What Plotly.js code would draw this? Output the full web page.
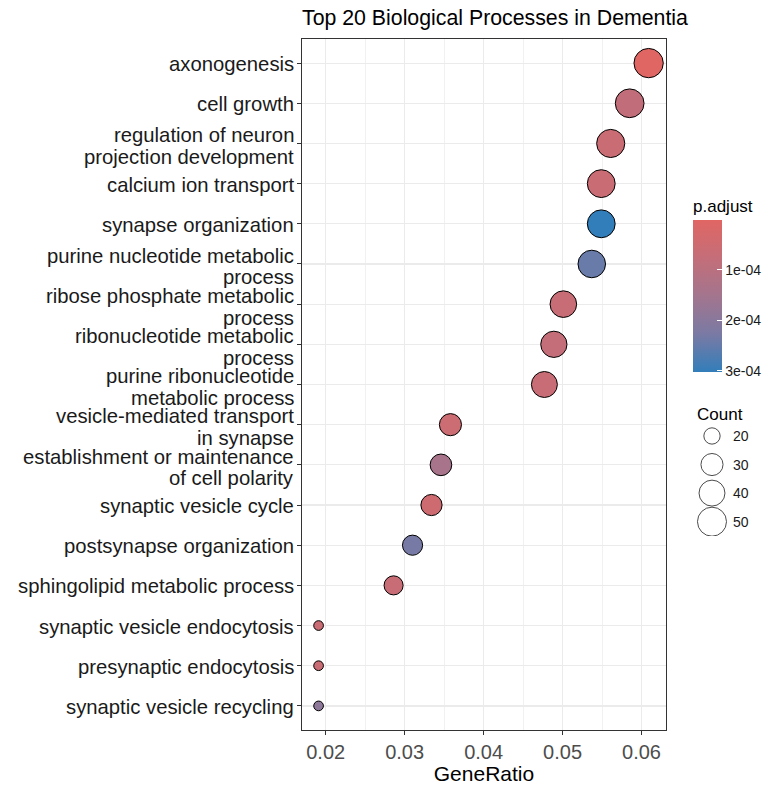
<!DOCTYPE html>
<html>
<head>
<meta charset="utf-8">
<script src="https://cdn.plot.ly/plotly-3.0.1.min.js"></script>
<style>html,body{margin:0;padding:0;background:#fff;}#chart{width:777px;height:785px;}</style>
</head>
<body>
<div id="chart"></div>
<script>
// ---- data ----
const categories = [
  "axonogenesis",
  "cell growth",
  "regulation of neuron<br>projection development",
  "calcium ion transport",
  "synapse organization",
  "purine nucleotide metabolic<br>process",
  "ribose phosphate metabolic<br>process",
  "ribonucleotide metabolic<br>process",
  "purine ribonucleotide<br>metabolic process",
  "vesicle-mediated transport<br>in synapse",
  "establishment or maintenance<br>of cell polarity",
  "synaptic vesicle cycle",
  "postsynapse organization",
  "sphingolipid metabolic process",
  "synaptic vesicle endocytosis",
  "presynaptic endocytosis",
  "synaptic vesicle recycling"
];
const geneRatio = [0.0609, 0.0585, 0.0561, 0.0549, 0.0549, 0.0537, 0.0501, 0.0489, 0.0477,
                   0.0358, 0.0346, 0.0334, 0.0310, 0.0286, 0.0191, 0.0191, 0.0191];
const counts = [51, 49, 47, 46, 46, 45, 42, 41, 40, 30, 29, 28, 26, 24, 16, 16, 16];
const pAdjust = [0.01e-4, 0.80e-4, 0.60e-4, 0.60e-4, 3.02e-4, 2.45e-4, 0.65e-4, 0.75e-4, 0.65e-4,
                 0.55e-4, 1.40e-4, 0.50e-4, 2.30e-4, 0.65e-4, 0.60e-4, 0.60e-4, 1.90e-4];
const xTickVals = [0.02, 0.03, 0.04, 0.05, 0.06];
const xTickText = ["0.02", "0.03", "0.04", "0.05", "0.06"];
const colorTickVals = [1e-4, 2e-4, 3e-4];
const colorTickText = ["1e-04", "2e-04", "3e-04"];
const legendCounts = [20, 30, 40, 50];
const legendLabels = ["20", "30", "40", "50"];

// ---- styling / scales ----
const FONT = "Liberation Sans, Arial, sans-serif";
const LABEL_LINE = 21.7;   // tight line spacing of the wrapped category labels (px)
const cMin = Math.min(...counts), cMax = Math.max(...counts);
const D_MIN = 9.7, D_MAX = 29.3;
function sizeOf(c) {
  const t = Math.max(0, (c - cMin) / (cMax - cMin));
  return D_MIN + (D_MAX - D_MIN) * Math.sqrt(t);
}
const pMin = Math.min(...pAdjust), pMax = Math.max(...pAdjust);
// colour bar runs red (low p, top) to blue (high p, bottom): plot the negated value
const colorscale = [
  [0, "#327eba"], [0.25, "#7a7aa4"], [0.5, "#a3758e"], [0.75, "#c46e79"], [1, "#e06663"]
];

const mainTrace = {
  type: "scatter", mode: "markers",
  x: geneRatio, y: categories,
  xaxis: "x", yaxis: "y",
  marker: {
    size: counts.map(sizeOf),
    color: pAdjust.map(v => -v),
    colorscale: colorscale,
    cmin: -pMax, cmax: -pMin,
    opacity: 1,
    line: {color: "#000000", width: 1},
    showscale: true,
    colorbar: {
      x: 0.8232, xanchor: "left", xpad: 0,
      y: 0.7728, yanchor: "top", ypad: 0,
      len: 176, lenmode: "pixels",
      thickness: 29, thicknessmode: "pixels",
      outlinewidth: 0,
      ticks: "inside", ticklen: 5, tickcolor: "#ffffff", tickwidth: 1,
      ticklabelstandoff: 7,
      tickvals: colorTickVals.map(v => -v), ticktext: colorTickText,
      tickfont: {family: FONT, size: 14, color: "#1a1a1a"},
      title: {text: "p.adjust", side: "top", font: {family: FONT, size: 17, color: "#000"}}
    }
  },
  hoverinfo: "x+y",
  showlegend: false
};

const legendTrace = {
  type: "scatter", mode: "markers",
  x: legendCounts.map(() => 712), y: legendCounts.map((c, i) => i),
  xaxis: "x2", yaxis: "y2",
  marker: {
    size: legendCounts.map(sizeOf),
    color: "#ffffff",
    line: {color: "#000000", width: 1}
  },
  hoverinfo: "skip",
  showlegend: false
};

const annotations = [];
// category labels (wrapped, right-aligned, tight line spacing) placed on the y scale
categories.forEach(cat => {
  const lines = cat.split("<br>");
  const n = lines.length;
  lines.forEach((ln, i) => {
    annotations.push({
      xref: "paper", yref: "y", x: 0, y: cat, text: ln, showarrow: false,
      xanchor: "right", yanchor: "middle", xshift: -7,
      yshift: ((n - 1) / 2 - i) * LABEL_LINE - (n > 1 ? 2.5 : 1),
      borderpad: 0,
      font: {family: FONT, size: 20.3, color: "#1a1a1a"}
    });
  });
});
legendLabels.forEach((t, i) => annotations.push({
  xref: "x2", yref: "y2", x: 731, y: i, text: t, showarrow: false,
  xanchor: "left", yanchor: "middle",
  font: {family: FONT, size: 14, color: "#1a1a1a"}
}));
annotations.push({
  xref: "paper", yref: "paper", x: 0.8274, y: 0.4573, text: "Count", showarrow: false,
  xanchor: "left", yanchor: "middle",
  font: {family: FONT, size: 17, color: "#000"}
});

const layout = {
  width: 777, height: 785,
  margin: {l: 302, r: 0, t: 39, b: 55, pad: 0},
  paper_bgcolor: "#ffffff", plot_bgcolor: "#ffffff",
  font: {family: FONT, color: "#000"},
  title: {
    text: "Top 20 Biological Processes in Dementia",
    x: 0, xref: "paper", xanchor: "left",
    y: 1 - 18 / 785, yref: "container", yanchor: "middle",
    font: {family: FONT, size: 21.3, color: "#000"}
  },
  xaxis: {
    domain: [0, 0.7663],
    range: [0.0170, 0.0631],
    tickmode: "array", tickvals: xTickVals, ticktext: xTickText,
    ticks: "outside", ticklen: 4, tickcolor: "#333333", tickwidth: 1,
    tickfont: {family: FONT, size: 20, color: "#4d4d4d"},
    showline: true, mirror: true, linecolor: "#333333", linewidth: 1.2,
    showgrid: true, gridcolor: "#ebebeb", gridwidth: 1.2,
    minor: {tickmode: "linear", tick0: 0.015, dtick: 0.005, showgrid: true,
            gridcolor: "#ebebeb", gridwidth: 0.7, ticks: ""},
    zeroline: false,
    title: {text: "GeneRatio", font: {family: FONT, size: 21, color: "#000"}, standoff: 2}
  },
  yaxis: {
    type: "category", categoryorder: "array", categoryarray: categories,
    range: [categories.length - 0.4, -0.6],
    ticks: "outside", ticklen: 4, tickcolor: "#333333", tickwidth: 1,
    showticklabels: false,
    showline: true, mirror: true, linecolor: "#333333", linewidth: 1.2,
    showgrid: true, gridcolor: "#ebebeb", gridwidth: 1.2,
    zeroline: false
  },
  xaxis2: {domain: [0.8168, 1], range: [690, 777], visible: false, fixedrange: true},
  yaxis2: {domain: [0.2808, 0.4462], range: [3.5, -0.5], visible: false, fixedrange: true, anchor: "x2"},
  annotations: annotations,
  hovermode: "closest"
};

Plotly.newPlot("chart", [mainTrace, legendTrace], layout, {displayModeBar: false, staticPlot: true});
</script>
</body>
</html>
